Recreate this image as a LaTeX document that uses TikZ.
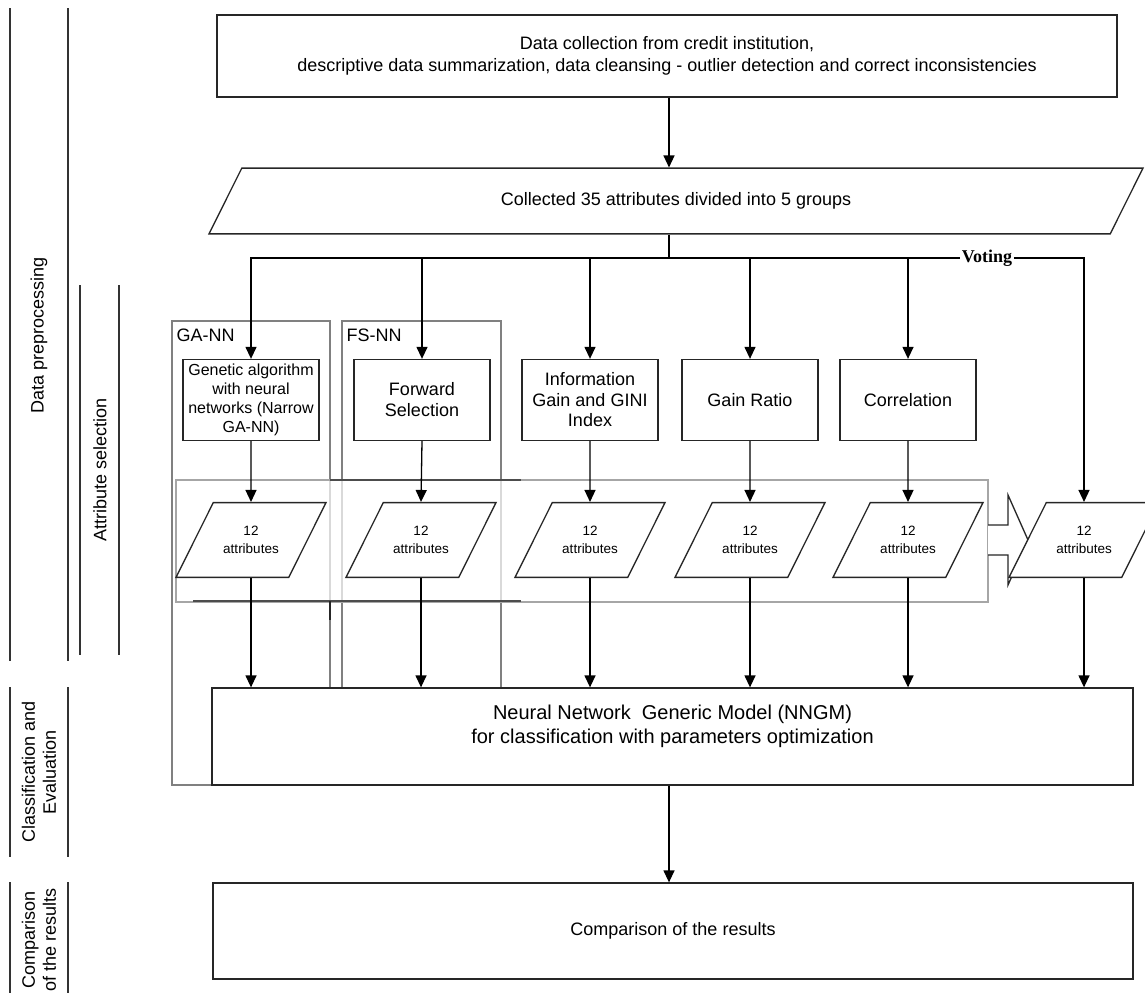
\documentclass[tikz,border=0pt]{standalone}
\usepackage{fontspec}
\setmainfont{Liberation Sans}
\newfontfamily\votefont{Liberation Serif}
\usetikzlibrary{shapes.geometric, arrows.meta, positioning}
\tikzset{
  >={Triangle[length=12pt,width=11pt]},
  stepbox/.style={draw=black!85, minimum width=136pt, minimum height=81pt,
    align=center, inner sep=2pt, font=\fontsize{18}{21}\selectfont},
  bigbox/.style={draw=black!85, align=center, inner sep=0pt,
    font=\fontsize{18}{22}\selectfont},
  attrpara/.style={trapezium, trapezium left angle=63.5, trapezium right angle=116.5,
    trapezium stretches body=true, draw=black!85, fill=white,
    minimum width=150pt, inner xsep=0pt, inner ysep=23.6pt, align=center,
    font=\fontsize{13.5}{18}\selectfont},
  grp/.style={draw=black!50, line width=1.5pt},
  grplabel/.style={anchor=west, inner sep=0pt, font=\fontsize{18}{20}\selectfont},
  lane/.style={draw=black!80, line width=1.3pt},
  lanetext/.style={rotate=90, align=center, font=\fontsize{18}{21}\selectfont}
}

\begin{document}
\begin{tikzpicture}[x=1pt, y=-1pt, line width=1.3pt]
  \clip (0,0) rectangle (1145,993);
  % lanes on the left
  \draw[lane] (10,8) -- (10,661);
  \draw[lane] (68,8) -- (68,661);
  \node[lanetext] (lnprep) at (39,335) {Data preprocessing};
  \draw[lane] (80,285) -- (80,655);
  \draw[lane] (119,285) -- (119,655);
  \node[lanetext] (lnsel) at (100,470) {Attribute selection};
  \draw[lane] (10,687) -- (10,857);
  \draw[lane] (68,687) -- (68,857);
  \node[lanetext] (lncls) at (39,772) {Classification and\\Evaluation};
  \draw[lane] (10,882) -- (10,993);
  \draw[lane] (68,882) -- (68,993);
  \node[lanetext] (lncmp) at (39,940) {Comparison\\of the results};

  % top of the flow
  \node[bigbox, minimum width=900pt, minimum height=82pt] (collect) at (667,56)
    {Data collection from credit institution,\\descriptive data summarization, data cleansing - outlier detection and correct inconsistencies};
  \node[attrpara, minimum width=934pt, inner ysep=24.5pt,
    font=\fontsize{18}{22}\selectfont] (attrs) at (676,201)
    {Collected 35 attributes divided into 5 groups};
  \coordinate (split) at (669,258);

  % GA-NN and FS-NN groups
  \draw[grp] (212,785) -- (172,785) -- (172,321) -- (330,321) -- (330,688);
  \draw[grp] (342,688) -- (342,321) -- (501,321) -- (501,688);
  \node[grplabel] (galbl) at (176,335) {GA-NN};
  \node[grplabel] (fslbl) at (346,335) {FS-NN};

  % selection methods
  \node[stepbox, font=\fontsize{16}{19}\selectfont] (gabox) at (251,400)
    {Genetic algorithm\\with neural\\networks (Narrow\\GA-NN)};
  \node[stepbox] (fsbox) at (422,400) {Forward\\Selection};
  \node[stepbox, font=\fontsize{18}{20.5}\selectfont] (igbox) at (590,400)
    {Information\\Gain and GINI\\Index};
  \node[stepbox] (grbox) at (750,400) {Gain Ratio};
  \node[stepbox] (cobox) at (908,400) {Correlation};

  % band of results
  \node[draw=black!35, fill=white, fill opacity=0.7, line width=1.5pt,
    minimum width=812pt, minimum height=122pt, inner sep=0pt] (band) at (582,541) {};
  \draw[black!70, line width=2pt] (330,480) -- (521,480);
  \draw[black!70, line width=2pt] (193,601) -- (521,601);
  \draw[black!85, line width=2pt] (330,601) -- (330,620);
  \draw[black!85, fill=white] (988,525) -- (1008,525) -- (1008,495) -- (1028,540)
    -- (1008,585) -- (1008,555) -- (988,555);

  \node[attrpara] (ga12) at (251,540) {12\\attributes};
  \node[attrpara] (fs12) at (421,540) {12\\attributes};
  \node[attrpara] (ig12) at (590,540) {12\\attributes};
  \node[attrpara] (gr12) at (750,540) {12\\attributes};
  \node[attrpara] (co12) at (908,540) {12\\attributes};
  \node[attrpara] (vo12) at (1084,540) {12\\attributes};

  % model and comparison
  \node[bigbox, minimum width=921pt, minimum height=97pt,
    font=\fontsize{20}{24}\selectfont] (nngm) at (672.5,736.5)
    {Neural Network\ \ Generic Model (NNGM)\\for classification with parameters optimization\\\mbox{}};
  \node[bigbox, minimum width=920pt, minimum height=96pt] (cmp) at (673,931)
    {Comparison of the results};

  % connectors
  \draw[->] (collect.south -| split) -- (attrs.north -| split);
  \draw (attrs.south -| split) -- (split);
  \foreach \b in {gabox,fsbox,igbox,grbox,cobox}
    \draw[->] (split) -| (\b.north);
  \node[fill=white, inner sep=1pt, font=\votefont\bfseries\fontsize{18}{20}\selectfont]
    (votelbl) at (987,258) {Voting};
  \draw (split) -- (votelbl);
  \draw[->] (votelbl) -| (vo12.north);
  \foreach \b/\p in {gabox/ga12, fsbox/fs12, igbox/ig12, grbox/gr12, cobox/co12}
    \draw[->] (\b.south) -- (\p.north);
  \foreach \p in {ga12,fs12,ig12,gr12,co12,vo12}
    \draw[->] (\p.south) -- (\p.south |- nngm.north);
  \draw[->] (nngm.south -| split) -- (cmp.north -| split);
\end{tikzpicture}
\end{document}
